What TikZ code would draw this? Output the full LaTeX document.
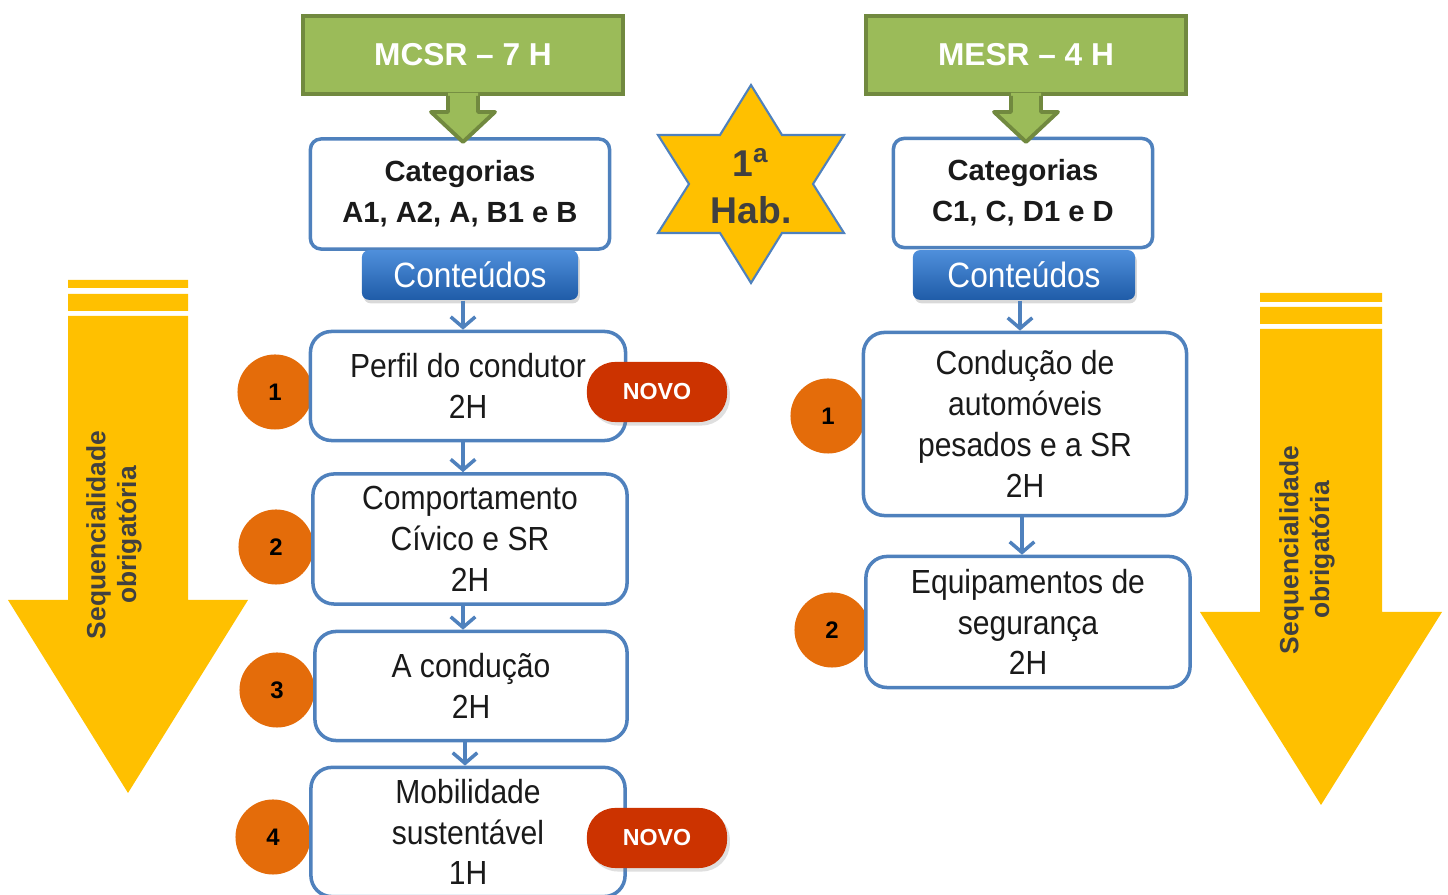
\documentclass[tikz,border=0pt]{standalone}
\usepackage{fontspec}
\setmainfont{Liberation Sans}
\newfontfamily\estreita[FakeStretch=0.9]{Liberation Sans}
\usetikzlibrary{arrows.meta,shadows,calc}
\definecolor{verdeclaro}{HTML}{9BBB59}
\definecolor{verdeescuro}{HTML}{71893F}
\definecolor{azul}{HTML}{4F81BD}
\definecolor{azulclaro}{HTML}{4F8FDB}
\definecolor{azulescuro}{HTML}{1F5CA8}
\definecolor{laranja}{HTML}{E46C0A}
\definecolor{vermelho}{HTML}{CC3300}
\definecolor{amarelo}{HTML}{FFC000}
\definecolor{cinza}{HTML}{404040}
\definecolor{preto}{HTML}{1A1A1A}

\begin{document}
\begin{tikzpicture}[x=0.01cm,y=-0.01cm]
\tikzset{titulo/.style={draw=verdeescuro,fill=verdeclaro,line width=1.1pt,minimum width=3.2cm,minimum height=0.78cm,text=white,font=\fontsize{9}{11}\selectfont\bfseries}}
\tikzset{categoria/.style={draw=azul,fill=white,line width=1pt,rounded corners=3pt,align=center,text=preto,font=\fontsize{8.3}{11.6}\selectfont\bfseries}}
\tikzset{botao/.style={rounded corners=2pt,top color=azulclaro,bottom color=azulescuro,text=white,font=\estreita\fontsize{10}{12}\selectfont,drop shadow={opacity=0.3,shadow xshift=0.5pt,shadow yshift=-1pt}}}
\tikzset{caixa/.style={draw=azul,fill=white,line width=1pt,rounded corners=6pt,align=center,text=preto,font=\estreita\fontsize{9.5}{11.6}\selectfont}}
\tikzset{numero/.style={circle,fill=laranja,minimum size=0.75cm,inner sep=0pt,font=\fontsize{6.8}{8}\selectfont\bfseries}}
\tikzset{novo/.style={rounded corners=8pt,fill=vermelho,text=white,minimum width=1.4cm,minimum height=0.6cm,font=\fontsize{6.6}{8}\selectfont\bfseries,drop shadow={opacity=0.25,shadow xshift=0.8pt,shadow yshift=-1pt}}}
\tikzset{seta/.style={draw=azul,line width=1pt,-{Straight Barb[length=3pt,width=7pt]}}}
\tikzset{seq/.style={rotate=90,align=center,text=cinza,font=\fontsize{7.5}{8.8}\selectfont\bfseries}}
\useasboundingbox (0,0) rectangle (1448,895);
  % setas amarelas
  \fill[amarelo] (68,280) rectangle (188,288) (68,294) rectangle (188,311);
  \fill[amarelo] (68,316) -- (188,316) -- (188,600) -- (248,600) -- (128,793) -- (8,600) -- (68,600) -- cycle;
  \node[seq] (seqL) at (114,535) {Sequencialidade\\obrigatória};
  \fill[amarelo] (1260,293) rectangle (1382,302) (1260,307) rectangle (1382,324);
  \fill[amarelo] (1260,329) -- (1382,329) -- (1382,612) -- (1442,612) -- (1321,805) -- (1200,612) -- (1260,612) -- cycle;
  \node[seq] (seqR) at (1307,550) {Sequencialidade\\obrigatória};
  % numeros
  \node[numero] (n1) at (275,392) {1};
  \node[numero] (n2) at (276,547) {2};
  \node[numero] (n3) at (277,690) {3};
  \node[numero] (n4) at (273,837) {4};
  \node[numero] (m1) at (828,416) {1};
  \node[numero] (m2) at (832,630) {2};
  % lado esquerdo
  \node[titulo] (mcsr) at (463,55) {MCSR -- 7 H};
  \node[categoria,minimum width=2.99cm,minimum height=1.1cm] (catL) at (460,194) {Categorias\\A1, A2, A, B1 e B};
  \node[botao,minimum width=2.16cm,minimum height=0.47cm] (contL) at (470,275) {Conteúdos};
  \node[caixa,minimum width=3.15cm,minimum height=1.09cm] (perfil) at (468,386) {Perfil do condutor\\2H};
  \node[caixa,minimum width=3.14cm,minimum height=1.3cm] (comport) at (470,539) {Comportamento\\Cívico e SR\\2H};
  \node[caixa,minimum width=3.12cm,minimum height=1.09cm] (conducao) at (471,686) {A condução\\2H};
  \node[caixa,minimum width=3.14cm,minimum height=1.26cm] (mobil) at (468,832) {Mobilidade\\sustentável\\1H};
  \node[novo] (novo1) at (657,392) {NOVO};
  \node[novo] (novo2) at (657,838) {NOVO};
  % lado direito
  \node[titulo] (mesr) at (1026,55) {MESR -- 4 H};
  \node[categoria,minimum width=2.59cm,minimum height=1.09cm] (catR) at (1023,193) {Categorias\\C1, C, D1 e D};
  \node[botao,minimum width=2.22cm,minimum height=0.46cm] (contR) at (1024,275) {Conteúdos};
  \node[caixa,minimum width=3.23cm,minimum height=1.83cm] (pesados) at (1025,424) {Condução de\\automóveis\\pesados e a SR\\2H};
  \node[caixa,minimum width=3.24cm,minimum height=1.31cm] (equip) at (1028,622) {Equipamentos de\\segurança\\2H};
  % setas verdes
  \foreach \n in {mcsr,mesr}{
    \fill[verdeclaro] ($(\n.south)+(-15,-3)$) -- ++(0,19) -- ++(-17,0) -- ++(32,30) -- ++(32,-30) -- ++(-17,0) -- ++(0,-19) -- cycle;
    \draw[verdeescuro,line width=1.1pt,line join=round] ($(\n.south)+(-15,0)$) -- ++(0,16) -- ++(-17,0) -- ++(32,30) -- ++(32,-30) -- ++(-17,0) -- ++(0,-16);
  }
  % estrela
  \draw[fill=amarelo,draw=azul,line width=0.6pt] (751,85) -- (782,135) -- (844,135) -- (813,184) -- (844,233) -- (782,233) -- (751,283) -- (720,233) -- (658,233) -- (689,184) -- (658,135) -- (720,135) -- cycle;
  \node[align=center,text=cinza,font=\fontsize{10.6}{13.3}\selectfont\bfseries] (hab) at (751,186) {1\textsuperscript{a}\\Hab.};
  % ligacoes
  \draw[seta] (contL.south -| 463,0) -- (perfil.north -| 463,0);
  \draw[seta] (perfil.south -| 463,0) -- (comport.north -| 463,0);
  \draw[seta] (comport.south -| 463,0) -- (conducao.north -| 463,0);
  \draw[seta] (conducao.south -| 465,0) -- (mobil.north -| 465,0);
  \draw[seta] (contR.south -| 1020,0) -- (pesados.north -| 1020,0);
  \draw[seta] (pesados.south -| 1022,0) -- (equip.north -| 1022,0);
\end{tikzpicture}
\end{document}
